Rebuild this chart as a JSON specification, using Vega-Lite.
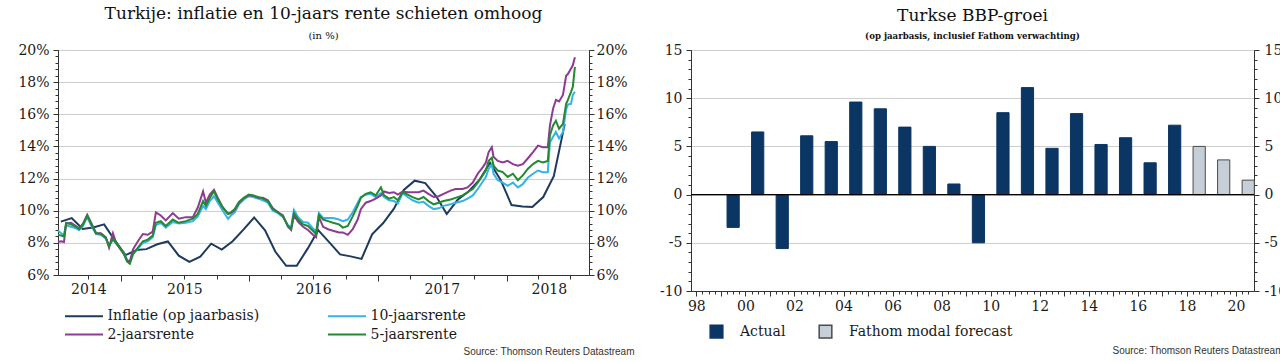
{
  "$schema": "https://vega.github.io/schema/vega-lite/v6.json",
  "background": "white",
  "padding": {"left": 17, "top": 4, "right": 0, "bottom": 0},
  "bounds": "flush",
  "spacing": 102,
  "datasets": {
    "infl": [
      {"d": "2014-07-15", "v": 9.32}, {"d": "2014-08-15", "v": 9.54}, {"d": "2014-09-15", "v": 8.86}, {"d": "2014-10-15", "v": 8.96},
      {"d": "2014-11-15", "v": 9.15}, {"d": "2014-12-15", "v": 8.17}, {"d": "2015-01-15", "v": 7.24}, {"d": "2015-02-15", "v": 7.55},
      {"d": "2015-03-15", "v": 7.61}, {"d": "2015-04-15", "v": 7.91}, {"d": "2015-05-15", "v": 8.09}, {"d": "2015-06-15", "v": 7.2},
      {"d": "2015-07-15", "v": 6.81}, {"d": "2015-08-15", "v": 7.14}, {"d": "2015-09-15", "v": 7.95}, {"d": "2015-10-15", "v": 7.58},
      {"d": "2015-11-15", "v": 8.1}, {"d": "2015-12-15", "v": 8.81}, {"d": "2016-01-15", "v": 9.58}, {"d": "2016-02-15", "v": 8.78},
      {"d": "2016-03-15", "v": 7.46}, {"d": "2016-04-15", "v": 6.57}, {"d": "2016-05-15", "v": 6.58}, {"d": "2016-06-15", "v": 7.64},
      {"d": "2016-07-15", "v": 8.79}, {"d": "2016-08-15", "v": 8.05}, {"d": "2016-09-15", "v": 7.28}, {"d": "2016-10-15", "v": 7.16},
      {"d": "2016-11-15", "v": 7.0}, {"d": "2016-12-15", "v": 8.53}, {"d": "2017-01-15", "v": 9.22}, {"d": "2017-02-15", "v": 10.13},
      {"d": "2017-03-15", "v": 11.29}, {"d": "2017-04-15", "v": 11.87}, {"d": "2017-05-15", "v": 11.72}, {"d": "2017-06-15", "v": 10.9},
      {"d": "2017-07-15", "v": 9.79}, {"d": "2017-08-15", "v": 10.68}, {"d": "2017-09-15", "v": 11.2}, {"d": "2017-10-15", "v": 11.9},
      {"d": "2017-11-15", "v": 12.98}, {"d": "2017-12-15", "v": 11.92}, {"d": "2018-01-15", "v": 10.35}, {"d": "2018-02-15", "v": 10.26},
      {"d": "2018-03-15", "v": 10.23}, {"d": "2018-04-15", "v": 10.85}, {"d": "2018-05-15", "v": 12.15}, {"d": "2018-06-15", "v": 15.39}
    ],
    "r5": [
      {"d": "2014-07-07", "v": 8.5}, {"d": "2014-07-16", "v": 8.45}, {"d": "2014-07-24", "v": 8.4}, {"d": "2014-07-30", "v": 9.25},
      {"d": "2014-08-13", "v": 9.15}, {"d": "2014-08-27", "v": 9.0}, {"d": "2014-09-05", "v": 8.85}, {"d": "2014-09-16", "v": 9.15},
      {"d": "2014-09-28", "v": 9.7}, {"d": "2014-10-09", "v": 9.2}, {"d": "2014-10-23", "v": 8.6}, {"d": "2014-11-06", "v": 8.55},
      {"d": "2014-11-20", "v": 8.3}, {"d": "2014-11-29", "v": 7.8}, {"d": "2014-12-10", "v": 8.25}, {"d": "2014-12-19", "v": 8.0},
      {"d": "2015-01-02", "v": 7.6}, {"d": "2015-01-10", "v": 7.35}, {"d": "2015-01-19", "v": 6.85}, {"d": "2015-01-27", "v": 6.7},
      {"d": "2015-02-05", "v": 7.3}, {"d": "2015-02-19", "v": 7.7}, {"d": "2015-03-05", "v": 8.1}, {"d": "2015-03-19", "v": 8.2},
      {"d": "2015-04-02", "v": 8.45}, {"d": "2015-04-11", "v": 9.25}, {"d": "2015-04-25", "v": 9.35}, {"d": "2015-05-09", "v": 9.05},
      {"d": "2015-05-29", "v": 9.45}, {"d": "2015-06-15", "v": 9.25}, {"d": "2015-07-05", "v": 9.35}, {"d": "2015-07-25", "v": 9.5},
      {"d": "2015-08-08", "v": 9.8}, {"d": "2015-08-23", "v": 10.6}, {"d": "2015-08-31", "v": 10.3}, {"d": "2015-09-11", "v": 10.8},
      {"d": "2015-09-23", "v": 11.2}, {"d": "2015-10-04", "v": 10.7}, {"d": "2015-10-18", "v": 10.2}, {"d": "2015-11-02", "v": 9.8},
      {"d": "2015-11-10", "v": 9.9}, {"d": "2015-11-21", "v": 10.1}, {"d": "2015-12-03", "v": 10.55}, {"d": "2015-12-17", "v": 10.8},
      {"d": "2015-12-31", "v": 11.0}, {"d": "2016-01-12", "v": 10.95}, {"d": "2016-01-26", "v": 10.85}, {"d": "2016-02-09", "v": 10.75},
      {"d": "2016-02-23", "v": 10.6}, {"d": "2016-03-08", "v": 10.1}, {"d": "2016-03-23", "v": 9.9}, {"d": "2016-04-06", "v": 9.65},
      {"d": "2016-04-20", "v": 9.05}, {"d": "2016-04-29", "v": 8.85}, {"d": "2016-05-07", "v": 9.85}, {"d": "2016-05-19", "v": 9.45},
      {"d": "2016-06-02", "v": 9.15}, {"d": "2016-06-16", "v": 9.05}, {"d": "2016-06-30", "v": 8.75}, {"d": "2016-07-09", "v": 8.55},
      {"d": "2016-07-17", "v": 9.75}, {"d": "2016-07-29", "v": 9.45}, {"d": "2016-08-12", "v": 9.35}, {"d": "2016-08-26", "v": 9.25},
      {"d": "2016-09-12", "v": 9.15}, {"d": "2016-09-23", "v": 8.95}, {"d": "2016-10-07", "v": 9.05}, {"d": "2016-10-21", "v": 9.65},
      {"d": "2016-11-04", "v": 10.3}, {"d": "2016-11-13", "v": 10.8}, {"d": "2016-11-27", "v": 11.05}, {"d": "2016-12-11", "v": 11.15},
      {"d": "2016-12-25", "v": 10.95}, {"d": "2017-01-09", "v": 11.45}, {"d": "2017-01-18", "v": 10.95}, {"d": "2017-02-01", "v": 10.75},
      {"d": "2017-02-15", "v": 10.85}, {"d": "2017-02-26", "v": 10.65}, {"d": "2017-03-12", "v": 11.15}, {"d": "2017-03-26", "v": 11.0},
      {"d": "2017-04-09", "v": 10.85}, {"d": "2017-04-26", "v": 10.7}, {"d": "2017-05-10", "v": 10.85}, {"d": "2017-05-24", "v": 10.6},
      {"d": "2017-06-08", "v": 10.4}, {"d": "2017-06-22", "v": 10.5}, {"d": "2017-07-06", "v": 10.6}, {"d": "2017-07-26", "v": 10.7},
      {"d": "2017-08-09", "v": 10.8}, {"d": "2017-08-29", "v": 10.95}, {"d": "2017-09-12", "v": 11.15}, {"d": "2017-09-27", "v": 11.35},
      {"d": "2017-10-11", "v": 11.75}, {"d": "2017-10-25", "v": 12.2}, {"d": "2017-11-03", "v": 12.5}, {"d": "2017-11-11", "v": 13.1},
      {"d": "2017-11-20", "v": 13.3}, {"d": "2017-11-25", "v": 12.8}, {"d": "2017-12-07", "v": 12.5}, {"d": "2017-12-21", "v": 12.4},
      {"d": "2018-01-04", "v": 12.1}, {"d": "2018-01-19", "v": 12.3}, {"d": "2018-02-02", "v": 11.9}, {"d": "2018-02-16", "v": 12.2},
      {"d": "2018-03-02", "v": 12.6}, {"d": "2018-03-17", "v": 12.9}, {"d": "2018-03-31", "v": 13.1}, {"d": "2018-04-14", "v": 13.0},
      {"d": "2018-04-28", "v": 13.1}, {"d": "2018-05-04", "v": 14.7}, {"d": "2018-05-13", "v": 15.3}, {"d": "2018-05-21", "v": 15.6},
      {"d": "2018-05-30", "v": 15.1}, {"d": "2018-06-10", "v": 15.4}, {"d": "2018-06-19", "v": 16.65}, {"d": "2018-06-24", "v": 16.9},
      {"d": "2018-07-03", "v": 17.4}, {"d": "2018-07-08", "v": 17.7}, {"d": "2018-07-14", "v": 18.95}
    ],
    "r10": [
      {"d": "2014-07-07", "v": 8.75}, {"d": "2014-07-16", "v": 8.6}, {"d": "2014-07-24", "v": 8.45}, {"d": "2014-07-30", "v": 9.1},
      {"d": "2014-08-13", "v": 9.0}, {"d": "2014-08-27", "v": 8.9}, {"d": "2014-09-05", "v": 8.8}, {"d": "2014-09-16", "v": 9.05},
      {"d": "2014-09-28", "v": 9.6}, {"d": "2014-10-09", "v": 9.1}, {"d": "2014-10-23", "v": 8.55}, {"d": "2014-11-06", "v": 8.5},
      {"d": "2014-11-20", "v": 8.25}, {"d": "2014-11-29", "v": 7.85}, {"d": "2014-12-10", "v": 8.2}, {"d": "2014-12-19", "v": 7.95},
      {"d": "2015-01-02", "v": 7.6}, {"d": "2015-01-10", "v": 7.4}, {"d": "2015-01-19", "v": 6.95}, {"d": "2015-01-27", "v": 6.8},
      {"d": "2015-02-05", "v": 7.3}, {"d": "2015-02-19", "v": 7.65}, {"d": "2015-03-05", "v": 8.0}, {"d": "2015-03-19", "v": 8.1},
      {"d": "2015-04-02", "v": 8.35}, {"d": "2015-04-11", "v": 9.1}, {"d": "2015-04-25", "v": 9.25}, {"d": "2015-05-09", "v": 8.95},
      {"d": "2015-05-29", "v": 9.3}, {"d": "2015-06-15", "v": 9.2}, {"d": "2015-07-05", "v": 9.25}, {"d": "2015-07-25", "v": 9.35},
      {"d": "2015-08-08", "v": 9.65}, {"d": "2015-08-23", "v": 10.3}, {"d": "2015-08-31", "v": 10.1}, {"d": "2015-09-11", "v": 10.6},
      {"d": "2015-09-23", "v": 10.9}, {"d": "2015-10-04", "v": 10.5}, {"d": "2015-10-18", "v": 10.0}, {"d": "2015-11-02", "v": 9.5},
      {"d": "2015-11-10", "v": 9.7}, {"d": "2015-11-21", "v": 9.9}, {"d": "2015-12-03", "v": 10.4}, {"d": "2015-12-17", "v": 10.7},
      {"d": "2015-12-31", "v": 10.9}, {"d": "2016-01-12", "v": 10.85}, {"d": "2016-01-26", "v": 10.75}, {"d": "2016-02-09", "v": 10.65},
      {"d": "2016-02-23", "v": 10.5}, {"d": "2016-03-08", "v": 10.0}, {"d": "2016-03-23", "v": 9.85}, {"d": "2016-04-06", "v": 9.6},
      {"d": "2016-04-20", "v": 9.1}, {"d": "2016-04-29", "v": 8.95}, {"d": "2016-05-07", "v": 10.05}, {"d": "2016-05-19", "v": 9.6},
      {"d": "2016-06-02", "v": 9.3}, {"d": "2016-06-16", "v": 9.25}, {"d": "2016-06-30", "v": 8.9}, {"d": "2016-07-09", "v": 8.7},
      {"d": "2016-07-17", "v": 9.85}, {"d": "2016-07-29", "v": 9.55}, {"d": "2016-08-12", "v": 9.55}, {"d": "2016-08-26", "v": 9.55},
      {"d": "2016-09-12", "v": 9.45}, {"d": "2016-09-23", "v": 9.35}, {"d": "2016-10-07", "v": 9.45}, {"d": "2016-10-21", "v": 9.9},
      {"d": "2016-11-04", "v": 10.5}, {"d": "2016-11-13", "v": 10.85}, {"d": "2016-11-27", "v": 11.0}, {"d": "2016-12-11", "v": 11.05},
      {"d": "2016-12-25", "v": 10.85}, {"d": "2017-01-09", "v": 11.1}, {"d": "2017-01-18", "v": 10.85}, {"d": "2017-02-01", "v": 10.65},
      {"d": "2017-02-15", "v": 10.6}, {"d": "2017-02-26", "v": 10.45}, {"d": "2017-03-12", "v": 11.1}, {"d": "2017-03-26", "v": 10.85},
      {"d": "2017-04-09", "v": 10.65}, {"d": "2017-04-26", "v": 10.5}, {"d": "2017-05-10", "v": 10.55}, {"d": "2017-05-24", "v": 10.3},
      {"d": "2017-06-08", "v": 10.1}, {"d": "2017-06-22", "v": 10.15}, {"d": "2017-07-06", "v": 10.3}, {"d": "2017-07-26", "v": 10.4},
      {"d": "2017-08-09", "v": 10.5}, {"d": "2017-08-29", "v": 10.6}, {"d": "2017-09-12", "v": 10.75}, {"d": "2017-09-27", "v": 10.95},
      {"d": "2017-10-11", "v": 11.35}, {"d": "2017-10-25", "v": 11.8}, {"d": "2017-11-03", "v": 12.1}, {"d": "2017-11-11", "v": 12.6},
      {"d": "2017-11-20", "v": 12.9}, {"d": "2017-11-25", "v": 12.3}, {"d": "2017-12-07", "v": 11.9}, {"d": "2017-12-21", "v": 11.75},
      {"d": "2018-01-04", "v": 11.55}, {"d": "2018-01-19", "v": 11.75}, {"d": "2018-02-02", "v": 11.45}, {"d": "2018-02-16", "v": 11.65},
      {"d": "2018-03-02", "v": 12.05}, {"d": "2018-03-17", "v": 12.3}, {"d": "2018-03-31", "v": 12.5}, {"d": "2018-04-14", "v": 12.4},
      {"d": "2018-04-28", "v": 12.4}, {"d": "2018-05-04", "v": 14.25}, {"d": "2018-05-13", "v": 14.6}, {"d": "2018-05-21", "v": 14.9},
      {"d": "2018-05-30", "v": 14.5}, {"d": "2018-06-10", "v": 14.9}, {"d": "2018-06-19", "v": 16.3}, {"d": "2018-06-24", "v": 16.6},
      {"d": "2018-07-03", "v": 16.65}, {"d": "2018-07-08", "v": 17.2}, {"d": "2018-07-14", "v": 17.4}
    ],
    "r2": [
      {"d": "2014-07-07", "v": 8.05}, {"d": "2014-07-16", "v": 8.1}, {"d": "2014-07-24", "v": 8.05}, {"d": "2014-07-30", "v": 9.2},
      {"d": "2014-08-13", "v": 9.25}, {"d": "2014-08-27", "v": 9.05}, {"d": "2014-09-05", "v": 8.9}, {"d": "2014-09-16", "v": 9.2},
      {"d": "2014-09-28", "v": 9.75}, {"d": "2014-10-09", "v": 9.25}, {"d": "2014-10-23", "v": 8.6}, {"d": "2014-11-06", "v": 8.6},
      {"d": "2014-11-20", "v": 8.35}, {"d": "2014-11-29", "v": 7.7}, {"d": "2014-12-10", "v": 8.6}, {"d": "2014-12-19", "v": 8.0},
      {"d": "2015-01-02", "v": 7.55}, {"d": "2015-01-10", "v": 7.3}, {"d": "2015-01-19", "v": 6.9}, {"d": "2015-01-27", "v": 6.85},
      {"d": "2015-02-05", "v": 7.6}, {"d": "2015-02-19", "v": 8.1}, {"d": "2015-03-05", "v": 8.55}, {"d": "2015-03-19", "v": 8.5},
      {"d": "2015-04-02", "v": 8.7}, {"d": "2015-04-11", "v": 9.9}, {"d": "2015-04-25", "v": 9.7}, {"d": "2015-05-09", "v": 9.4},
      {"d": "2015-05-29", "v": 9.85}, {"d": "2015-06-15", "v": 9.5}, {"d": "2015-07-05", "v": 9.6}, {"d": "2015-07-25", "v": 9.6},
      {"d": "2015-08-08", "v": 10.2}, {"d": "2015-08-23", "v": 11.2}, {"d": "2015-08-31", "v": 10.5}, {"d": "2015-09-11", "v": 11.0},
      {"d": "2015-09-23", "v": 11.3}, {"d": "2015-10-04", "v": 10.8}, {"d": "2015-10-18", "v": 10.2}, {"d": "2015-11-02", "v": 9.8},
      {"d": "2015-11-10", "v": 9.85}, {"d": "2015-11-21", "v": 10.05}, {"d": "2015-12-03", "v": 10.5}, {"d": "2015-12-17", "v": 10.8},
      {"d": "2015-12-31", "v": 10.95}, {"d": "2016-01-12", "v": 10.95}, {"d": "2016-01-26", "v": 10.8}, {"d": "2016-02-09", "v": 10.8},
      {"d": "2016-02-23", "v": 10.65}, {"d": "2016-03-08", "v": 10.15}, {"d": "2016-03-23", "v": 9.9}, {"d": "2016-04-06", "v": 9.7},
      {"d": "2016-04-20", "v": 9.0}, {"d": "2016-04-29", "v": 8.8}, {"d": "2016-05-07", "v": 9.7}, {"d": "2016-05-19", "v": 9.3},
      {"d": "2016-06-02", "v": 9.0}, {"d": "2016-06-16", "v": 8.8}, {"d": "2016-06-30", "v": 8.5}, {"d": "2016-07-09", "v": 8.35},
      {"d": "2016-07-17", "v": 9.6}, {"d": "2016-07-29", "v": 9.0}, {"d": "2016-08-12", "v": 8.85}, {"d": "2016-08-26", "v": 8.75},
      {"d": "2016-09-12", "v": 8.65}, {"d": "2016-09-23", "v": 8.65}, {"d": "2016-10-07", "v": 8.5}, {"d": "2016-10-21", "v": 8.85},
      {"d": "2016-11-04", "v": 9.45}, {"d": "2016-11-13", "v": 10.1}, {"d": "2016-11-27", "v": 10.5}, {"d": "2016-12-11", "v": 10.6},
      {"d": "2016-12-25", "v": 10.75}, {"d": "2017-01-09", "v": 10.95}, {"d": "2017-01-18", "v": 11.2}, {"d": "2017-02-01", "v": 11.1},
      {"d": "2017-02-15", "v": 11.15}, {"d": "2017-02-26", "v": 11.0}, {"d": "2017-03-12", "v": 11.2}, {"d": "2017-03-26", "v": 11.15},
      {"d": "2017-04-09", "v": 11.15}, {"d": "2017-04-26", "v": 11.15}, {"d": "2017-05-10", "v": 11.25}, {"d": "2017-05-24", "v": 11.05},
      {"d": "2017-06-08", "v": 10.85}, {"d": "2017-06-22", "v": 10.9}, {"d": "2017-07-06", "v": 11.05}, {"d": "2017-07-26", "v": 11.25},
      {"d": "2017-08-09", "v": 11.35}, {"d": "2017-08-29", "v": 11.35}, {"d": "2017-09-12", "v": 11.45}, {"d": "2017-09-27", "v": 11.75},
      {"d": "2017-10-11", "v": 12.3}, {"d": "2017-10-25", "v": 12.7}, {"d": "2017-11-03", "v": 13.0}, {"d": "2017-11-11", "v": 13.65},
      {"d": "2017-11-20", "v": 13.95}, {"d": "2017-11-25", "v": 13.35}, {"d": "2017-12-07", "v": 13.1}, {"d": "2017-12-21", "v": 13.0},
      {"d": "2018-01-04", "v": 13.1}, {"d": "2018-01-19", "v": 12.9}, {"d": "2018-02-02", "v": 12.8}, {"d": "2018-02-16", "v": 12.9},
      {"d": "2018-03-02", "v": 13.25}, {"d": "2018-03-17", "v": 13.65}, {"d": "2018-03-31", "v": 14.05}, {"d": "2018-04-14", "v": 13.95},
      {"d": "2018-04-28", "v": 13.95}, {"d": "2018-05-04", "v": 15.3}, {"d": "2018-05-13", "v": 16.35}, {"d": "2018-05-21", "v": 16.9},
      {"d": "2018-05-30", "v": 16.8}, {"d": "2018-06-10", "v": 17.2}, {"d": "2018-06-19", "v": 18.4}, {"d": "2018-06-24", "v": 18.5},
      {"d": "2018-07-03", "v": 18.85}, {"d": "2018-07-08", "v": 19.05}, {"d": "2018-07-14", "v": 19.55}
    ],
    "bbp": [
      {"jaar": "1999-01-01", "groei": -3.4, "type": "Actual"},
      {"jaar": "2000-01-01", "groei": 6.5, "type": "Actual"},
      {"jaar": "2001-01-01", "groei": -5.6, "type": "Actual"},
      {"jaar": "2002-01-01", "groei": 6.1, "type": "Actual"},
      {"jaar": "2003-01-01", "groei": 5.5, "type": "Actual"},
      {"jaar": "2004-01-01", "groei": 9.6, "type": "Actual"},
      {"jaar": "2005-01-01", "groei": 8.9, "type": "Actual"},
      {"jaar": "2006-01-01", "groei": 7.0, "type": "Actual"},
      {"jaar": "2007-01-01", "groei": 5.0, "type": "Actual"},
      {"jaar": "2008-01-01", "groei": 1.1, "type": "Actual"},
      {"jaar": "2009-01-01", "groei": -5.0, "type": "Actual"},
      {"jaar": "2010-01-01", "groei": 8.5, "type": "Actual"},
      {"jaar": "2011-01-01", "groei": 11.1, "type": "Actual"},
      {"jaar": "2012-01-01", "groei": 4.8, "type": "Actual"},
      {"jaar": "2013-01-01", "groei": 8.4, "type": "Actual"},
      {"jaar": "2014-01-01", "groei": 5.2, "type": "Actual"},
      {"jaar": "2015-01-01", "groei": 5.9, "type": "Actual"},
      {"jaar": "2016-01-01", "groei": 3.3, "type": "Actual"},
      {"jaar": "2017-01-01", "groei": 7.2, "type": "Actual"},
      {"jaar": "2018-01-01", "groei": 5.0, "type": "Fathom modal forecast"},
      {"jaar": "2019-01-01", "groei": 3.6, "type": "Fathom modal forecast"},
      {"jaar": "2020-01-01", "groei": 1.5, "type": "Fathom modal forecast"}
    ]
  },
  "hconcat": [
    {
      "width": 531,
      "height": 225,
      "title": {
        "text": "Turkije: inflatie en 10-jaars rente schieten omhoog",
        "subtitle": "(in %)"
      },
      "resolve": {"axis": {"x": "independent", "y": "independent"}},
      "layer": [
        {
          "data": {"name": "infl"},
          "mark": {"type": "line", "strokeWidth": 2},
          "encoding": {
            "x": {
              "field": "d", "type": "temporal",
              "scale": {"type": "utc", "nice": false, "domain": [{"year": 2014, "month": 7, "date": 7, "utc": true}, {"year": 2018, "month": 8, "date": 23, "utc": true}]},
              "axis": {
                "title": "Source: Thomson Reuters Datastream",
                "titleFont": "Liberation Sans", "titleFontSize": 10, "titleFontWeight": "normal", "titleColor": "#333",
                "titleAlign": "right", "titleBaseline": "alphabetic", "titleX": 576, "titleY": 79,
                "values": [
                  {"year": 2014, "month": 10, "date": 1, "utc": true},
                  {"year": 2015, "month": 1, "date": 1, "utc": true},
                  {"year": 2015, "month": 4, "date": 1, "utc": true},
                  {"year": 2015, "month": 7, "date": 1, "utc": true},
                  {"year": 2015, "month": 10, "date": 1, "utc": true},
                  {"year": 2016, "month": 1, "date": 1, "utc": true},
                  {"year": 2016, "month": 4, "date": 1, "utc": true},
                  {"year": 2016, "month": 7, "date": 1, "utc": true},
                  {"year": 2016, "month": 10, "date": 1, "utc": true},
                  {"year": 2017, "month": 1, "date": 1, "utc": true},
                  {"year": 2017, "month": 4, "date": 1, "utc": true},
                  {"year": 2017, "month": 7, "date": 1, "utc": true},
                  {"year": 2017, "month": 10, "date": 1, "utc": true},
                  {"year": 2018, "month": 1, "date": 1, "utc": true},
                  {"year": 2018, "month": 4, "date": 1, "utc": true},
                  {"year": 2018, "month": 5, "date": 1, "utc": true},
                  {"year": 2018, "month": 7, "date": 1, "utc": true}
                ],
                "labelExpr": "(utcyear(datum.value) == 2014 && utcmonth(datum.value) == 9) || (utcmonth(datum.value) == 6 && utcyear(datum.value) < 2018) || utcmonth(datum.value) == 4 ? utcFormat(datum.value, '%Y') : ''",
                "tickSize": {"condition": {"test": "utcmonth(datum.value) == 0", "value": 6}, "value": 4},
                "tickOpacity": {"condition": {"test": "utcmonth(datum.value) == 4", "value": 0}, "value": 1},
                "labelPadding": 3,
                "grid": false
              }
            },
            "y": {
              "field": "v", "type": "quantitative",
              "scale": {"domain": [6, 20], "nice": false, "zero": false},
              "axis": {
                "orient": "left", "title": null,
                "values": [6, 6.4, 6.8, 7.2, 7.6, 8, 8.4, 8.8, 9.2, 9.6, 10, 10.4, 10.8, 11.2, 11.6, 12, 12.4, 12.8, 13.2, 13.6, 14, 14.4, 14.8, 15.2, 15.6, 16, 16.4, 16.8, 17.2, 17.6, 18, 18.4, 18.8, 19.2, 19.6, 20],
                "labelExpr": "datum.value % 2 === 0 ? datum.value + '%' : ''",
                "tickSize": {"condition": {"test": "datum.value % 2 === 0", "value": 5}, "value": 3},
                "grid": true,
                "gridOpacity": {"condition": {"test": "datum.value % 2 === 0", "value": 1}, "value": 0},
                "labelPadding": 4
              }
            },
            "color": {
              "datum": "Inflatie (op jaarbasis)",
              "scale": {
                "domain": ["Inflatie (op jaarbasis)", "2-jaarsrente", "10-jaarsrente", "5-jaarsrente"],
                "range": ["#1d3a5f", "#8e3a92", "#35b3e6", "#228a30"]
              },
              "legend": {
                "title": null, "orient": "none", "legendX": 6, "legendY": 255.5,
                "columns": 2, "symbolType": "M-1,0H3", "symbolSize": 361, "symbolStrokeWidth": 2,
                "labelFontSize": 14, "labelOffset": 22.5, "columnPadding": 64, "rowPadding": 0.5, "labelLimit": 300
              }
            }
          }
        },
        {
          "data": {"name": "r10"},
          "mark": {"type": "line", "strokeWidth": 2},
          "encoding": {
            "x": {"field": "d", "type": "temporal", "axis": null},
            "y": {"field": "v", "type": "quantitative", "axis": null},
            "color": {"datum": "10-jaarsrente"}
          }
        },
        {
          "data": {"name": "r2"},
          "mark": {"type": "line", "strokeWidth": 2},
          "encoding": {
            "x": {"field": "d", "type": "temporal", "axis": null},
            "y": {"field": "v", "type": "quantitative", "axis": null},
            "color": {"datum": "2-jaarsrente"}
          }
        },
        {
          "data": {"name": "r5"},
          "mark": {"type": "line", "strokeWidth": 2},
          "encoding": {
            "x": {"field": "d", "type": "temporal", "axis": null},
            "y": {
              "field": "v", "type": "quantitative",
              "axis": {
                "orient": "right", "title": null,
                "values": [6, 6.4, 6.8, 7.2, 7.6, 8, 8.4, 8.8, 9.2, 9.6, 10, 10.4, 10.8, 11.2, 11.6, 12, 12.4, 12.8, 13.2, 13.6, 14, 14.4, 14.8, 15.2, 15.6, 16, 16.4, 16.8, 17.2, 17.6, 18, 18.4, 18.8, 19.2, 19.6, 20],
                "labelExpr": "datum.value % 2 === 0 ? datum.value + '%' : ''",
                "tickSize": {"condition": {"test": "datum.value % 2 === 0", "value": 5}, "value": 3},
                "grid": false,
                "labelPadding": 2
              }
            },
            "color": {"datum": "5-jaarsrente"}
          }
        }
      ]
    },
    {
      "width": 563,
      "height": 241,
      "title": {
        "text": "Turkse BBP-groei",
        "subtitle": "(op jaarbasis, inclusief Fathom verwachting)",
        "subtitleFont": "DejaVu Serif", "subtitleFontSize": 8.6, "subtitleFontWeight": "bold",
        "subtitlePadding": 7
      },
      "resolve": {"axis": {"y": "independent"}},
      "layer": [
        {
          "data": {"name": "bbp"},
          "mark": {"type": "bar", "width": 12.2, "strokeWidth": 1},
          "encoding": {
            "x": {
              "field": "jaar", "type": "temporal", "timeUnit": "utcyear", "bandPosition": 0.5,
              "scale": {"type": "utc", "nice": false, "domain": [{"year": 1997, "month": 10, "date": 13, "utc": true}, {"year": 2020, "month": 9, "date": 26, "utc": true}]},
              "axis": {
                "title": "Source: Thomson Reuters Datastream",
                "titleFont": "Liberation Sans", "titleFontSize": 10, "titleFontWeight": "normal", "titleColor": "#333",
                "titleAlign": "right", "titleBaseline": "alphabetic", "titleX": 592, "titleY": 62,
                "tickCount": {"interval": "month", "step": 3},
                "labelExpr": "utcmonth(datum.value) == 0 && utcyear(datum.value) % 2 == 0 ? utcFormat(datum.value, '%y') : ''",
                "tickSize": {"condition": {"test": "utcmonth(datum.value) == 0", "value": 5}, "value": 3},
                "labelPadding": 3,
                "grid": false
              }
            },
            "y": {
              "field": "groei", "type": "quantitative",
              "scale": {"domain": [-10, 15], "nice": false, "zero": false},
              "axis": {
                "orient": "left", "title": null,
                "values": [-10, -9, -8, -7, -6, -5, -4, -3, -2, -1, 0, 1, 2, 3, 4, 5, 6, 7, 8, 9, 10, 11, 12, 13, 14, 15],
                "labelExpr": "datum.value % 5 === 0 ? toString(datum.value) : ''",
                "tickSize": {"condition": {"test": "datum.value % 5 === 0", "value": 5}, "value": 3},
                "grid": true,
                "gridOpacity": {"condition": {"test": "datum.value % 5 === 0", "value": 1}, "value": 0},
                "labelPadding": 4
              }
            },
            "fill": {
              "field": "type", "type": "nominal",
              "scale": {"domain": ["Actual", "Fathom modal forecast"], "range": ["#0b3563", "#c6ced8"]},
              "legend": {
                "title": null, "orient": "none", "legendX": 651, "legendY": 274, "direction": "horizontal",
                "symbolType": "square", "symbolSize": 160, "labelFontSize": 14, "labelOffset": 16, "columnPadding": 30, "labelLimit": 300
              }
            },
            "stroke": {
              "field": "type", "type": "nominal",
              "scale": {"domain": ["Actual", "Fathom modal forecast"], "range": ["#0b3563", "#4a4a4a"]},
              "legend": {
                "title": null, "orient": "none", "legendX": 651, "legendY": 274, "direction": "horizontal",
                "symbolType": "square", "symbolSize": 160, "labelFontSize": 14, "labelOffset": 16, "columnPadding": 30, "labelLimit": 300
              }
            }
          }
        },
        {
          "data": {"values": [{"nul": 0}]},
          "mark": {"type": "rule", "color": "#000000", "strokeWidth": 1.3},
          "encoding": {
            "y": {
              "field": "nul", "type": "quantitative",
              "axis": {
                "orient": "right", "title": null,
                "values": [-10, -9, -8, -7, -6, -5, -4, -3, -2, -1, 0, 1, 2, 3, 4, 5, 6, 7, 8, 9, 10, 11, 12, 13, 14, 15],
                "labelExpr": "datum.value % 5 === 0 ? toString(datum.value) : ''",
                "tickSize": {"condition": {"test": "datum.value % 5 === 0", "value": 5}, "value": 3},
                "grid": false,
                "labelPadding": 5
              }
            }
          }
        }
      ]
    }
  ],
  "config": {
    "font": "DejaVu Serif",
    "view": {"stroke": "#555555", "strokeWidth": 1},
    "axis": {
      "labelFont": "DejaVu Serif", "labelFontSize": 14, "labelColor": "#1a1a1a",
      "domainColor": "#333333", "tickColor": "#333333", "gridColor": "#cfcfcf",
      "labelOverlap": false, "labelFlush": false, "labelBound": false
    },
    "legend": {"labelFont": "DejaVu Serif", "labelColor": "#1a1a1a"},
    "title": {
      "font": "DejaVu Serif", "fontSize": 17, "fontWeight": "normal", "color": "#111111",
      "subtitleFont": "DejaVu Serif", "subtitleFontSize": 10, "subtitleColor": "#111111",
      "subtitlePadding": 8, "offset": 1, "anchor": "middle"
    }
  }
}
